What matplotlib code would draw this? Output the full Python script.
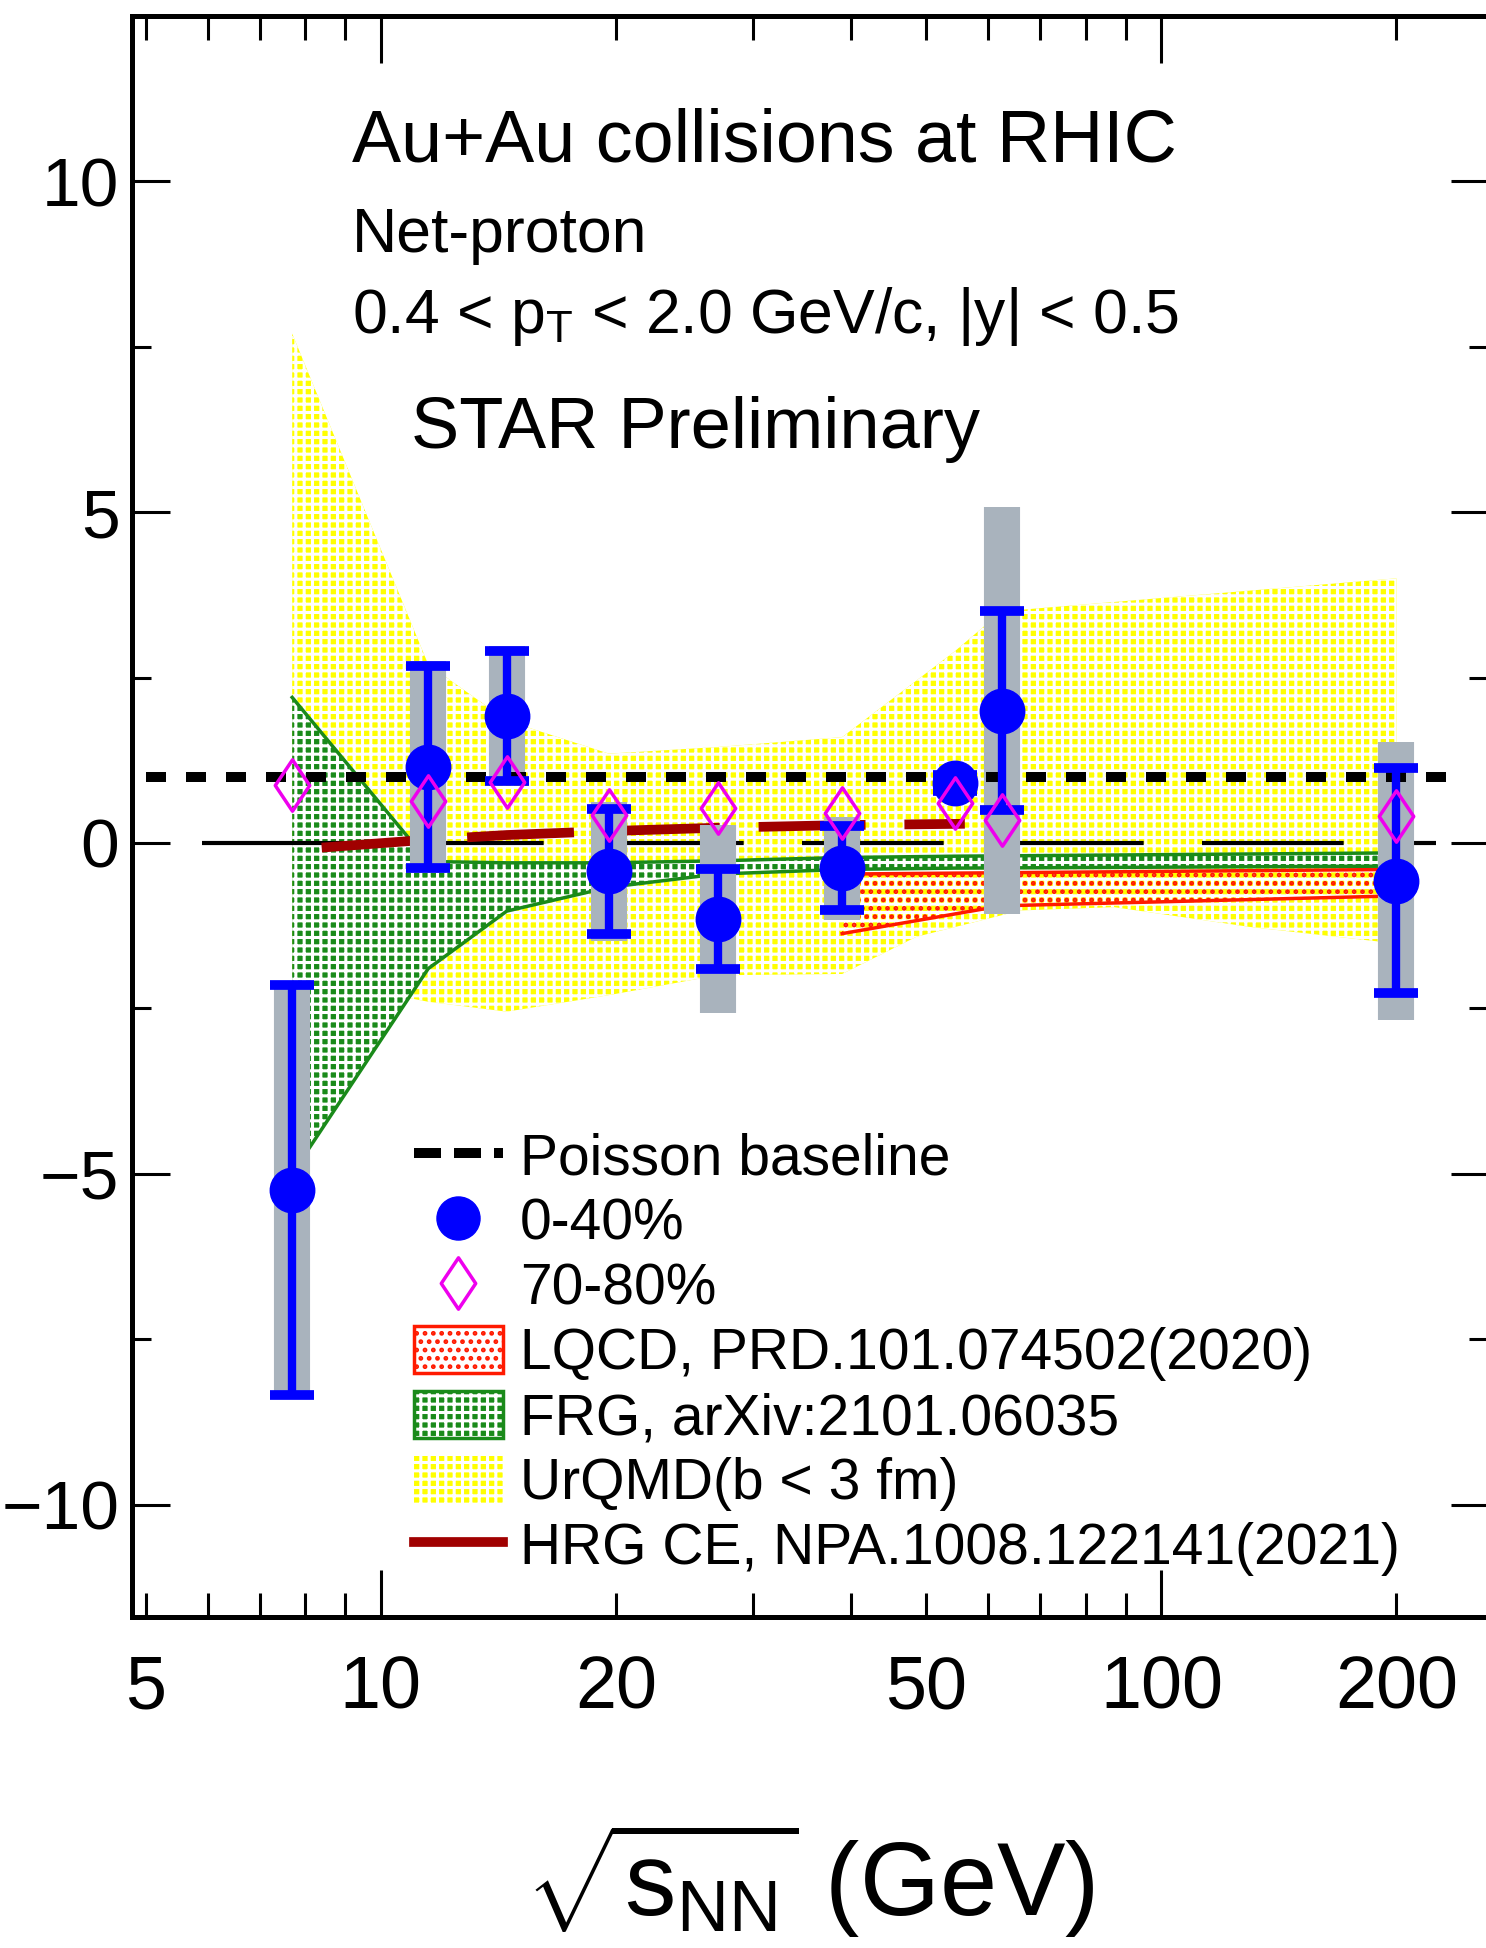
import matplotlib
matplotlib.use("Agg")
import matplotlib.pyplot as plt
from matplotlib.path import Path
from matplotlib.patches import Patch
from matplotlib.lines import Line2D
from matplotlib.ticker import FixedLocator, FuncFormatter, MultipleLocator

plt.rcParams['font.family'] = ['Liberation Sans', 'DejaVu Sans']
plt.rcParams['mathtext.fontset'] = 'custom'
plt.rcParams['mathtext.rm'] = 'Liberation Sans'
plt.rcParams['mathtext.it'] = 'Liberation Sans:italic'
plt.rcParams['mathtext.bf'] = 'Liberation Sans:bold'
plt.rcParams['hatch.linewidth'] = 2.2

# ---- data ----
energy = [7.7, 11.5, 14.5, 19.6, 27, 39, 54.4, 62.4, 200]

# 0-40% centrality
c040 = [-5.24, 1.15, 1.92, -0.43, -1.15, -0.38, 0.90, 2.00, -0.57]
c040_stat = [3.10, 1.53, 0.98, 0.95, 0.75, 0.64, 0.12, 1.50, 1.70]
c040_sys = [3.10, 1.60, 1.05, 1.05, 1.42, 0.78, 0.15, 3.08, 2.10]

# 70-80% centrality
c7080 = [0.88, 0.63, 0.92, 0.43, 0.53, 0.45, 0.61, 0.34, 0.41]

# UrQMD band (b < 3 fm)
urqmd_hi_x = [7.7, 11.5, 14.5, 19.6, 27, 39, 54.4, 62.4, 200]
urqmd_hi_y = [7.70, 2.70, 1.85, 1.35, 1.45, 1.60, 2.90, 3.50, 4.00]
urqmd_lo_x = [7.7, 11.5, 14.5, 19.6, 27, 39, 48.5, 66, 87, 130, 200]
urqmd_lo_y = [-2.00, -2.40, -2.55, -2.30, -2.00, -1.98, -1.42, -1.02, -0.97, -1.27, -1.52]

# FRG band
frg_x = [7.7, 11.5, 14.5, 19.6, 27, 39, 54.4, 200]
frg_hi = [2.20, -0.28, -0.30, -0.30, -0.27, -0.22, -0.20, -0.15]
frg_lo = [-5.00, -1.90, -1.03, -0.67, -0.47, -0.40, -0.38, -0.35]

# LQCD band
lqcd_x = [39, 62.4, 200]
lqcd_hi = [-0.47, -0.45, -0.40]
lqcd_lo = [-1.37, -0.95, -0.80]

# HRG CE
hrg_x = [8.4, 11.5, 14.5, 19.6, 27, 39, 56]
hrg_y = [-0.07, 0.05, 0.12, 0.18, 0.23, 0.27, 0.29]

# reference lines
poisson_x = [5.0, 244]
poisson_y = [1, 1]
zero_x = [5.9, 225]
zero_y = [0, 0]

# colours
BLUE = '#0000ff'
MAGENTA = '#ee00ee'
GREY = '#a9b3bd'
YELLOW = '#ffff00'
GREEN = '#1a8a1a'
RED = '#ff1a00'
DARKRED = '#a00000'

diamond = Path([(0, 1), (0.67, 0), (0, -1), (-0.67, 0), (0, 1)],
               [Path.MOVETO, Path.LINETO, Path.LINETO, Path.LINETO, Path.CLOSEPOLY])

fig = plt.figure(figsize=(14.86, 19.48), dpi=100)
ax = fig.add_axes([0.0888, 0.1699, 0.9125, 0.8219])

# model bands
ax.fill(urqmd_hi_x + urqmd_lo_x[::-1], urqmd_hi_y + urqmd_lo_y[::-1],
        facecolor=YELLOW, edgecolor='white', hatch='++', lw=0, zorder=1)
ax.fill_between(lqcd_x, lqcd_lo, lqcd_hi, facecolor='none', edgecolor=RED,
                hatch='..', lw=0, zorder=2)
ax.plot(lqcd_x, lqcd_hi, color=RED, lw=2.5, zorder=2)
ax.plot(lqcd_x, lqcd_lo, color=RED, lw=2.5, zorder=2)
ax.fill_between(frg_x, frg_lo, frg_hi, facecolor=GREEN, edgecolor='white',
                hatch='++', lw=0, zorder=2)
ax.plot(frg_x, frg_hi, color=GREEN, lw=2.5, zorder=2)
ax.plot(frg_x, frg_lo, color=GREEN, lw=2.5, zorder=2)

# lines
ax.plot(zero_x, zero_y, color='black', lw=3, dashes=(34, 14), zorder=3)
ax.plot(hrg_x, hrg_y, color=DARKRED, lw=7, dashes=(11, 4), zorder=3)

# systematic errors
lo = [v - s for v, s in zip(c040, c040_sys)]
hi = [v + s for v, s in zip(c040, c040_sys)]
ax.vlines(energy, lo, hi, colors=GREY, lw=26, zorder=3.5)

ax.plot(poisson_x, poisson_y, color='black', lw=7.2, dashes=(2, 2), zorder=4)

# data points
ax.errorbar(energy, c040, yerr=c040_stat, fmt='o', color=BLUE, ms=32,
            elinewidth=6, capsize=16, capthick=7, zorder=5)
ax.plot(energy, c7080, ls='none', marker=diamond, ms=37, mfc='none',
        mec=MAGENTA, mew=2.5, zorder=6)

# axes
ax.set_xscale('log')
ax.set_xlim(4.8, 262)
ax.set_ylim(-11.7, 12.5)
ax.xaxis.set_major_locator(FixedLocator([10, 100]))
ax.xaxis.set_minor_locator(FixedLocator([5, 6, 7, 8, 9, 20, 30, 40, 50, 60, 70, 80, 90, 200]))
ax.xaxis.set_major_formatter(FuncFormatter(lambda v, p: f'{v:g}'))
ax.xaxis.set_minor_formatter(FuncFormatter(lambda v, p: f'{v:g}' if v in (5, 20, 50, 200) else ''))
ax.yaxis.set_major_locator(MultipleLocator(5))
ax.yaxis.set_minor_locator(MultipleLocator(2.5))
ax.yaxis.set_major_formatter(FuncFormatter(lambda v, p: f'{v:g}'.replace('-', '\u2212')))

ax.tick_params(axis='x', which='major', direction='in', length=34, width=2.2,
               top=True, labelsize=53, pad=27)
ax.tick_params(axis='x', which='minor', direction='in', length=17, width=2.2,
               top=True, labelsize=53, pad=27)
ax.tick_params(axis='y', which='major', direction='in', length=27, width=2.2,
               right=True, labelsize=50, pad=9)
ax.tick_params(axis='y', which='minor', direction='in', length=14, width=2.2,
               right=True)
for sp in ax.spines.values():
    sp.set_linewidth(3.6)

# annotations
ax.text(0.162, 0.9088, 'Au+Au collisions at RHIC', transform=ax.transAxes,
        fontsize=53, va='baseline')
ax.text(0.162, 0.8526, 'Net-proton', transform=ax.transAxes,
        fontsize=45, va='baseline')
ax.text(0.162, 0.802, r'0.4 < p$_\mathrm{T}$ < 2.0 GeV/c, |y| < 0.5',
        transform=ax.transAxes, fontsize=45, va='baseline')
ax.text(0.206, 0.730, 'STAR Preliminary', transform=ax.transAxes,
        fontsize=52, va='baseline')

fig.text(0.545, 0.035, r'$\sqrt{\mathrm{s}_\mathrm{NN}}$ (GeV)', fontsize=74,
         ha='center', va='center')

# legend
handles = [
    Line2D([], [], color='black', lw=7.2, dashes=(2.7, 1.3)),
    Line2D([], [], ls='none', marker='o', color=BLUE, ms=31),
    Line2D([], [], ls='none', marker=diamond, ms=37, mfc='none', mec=MAGENTA, mew=2.5),
    Patch(facecolor='white', edgecolor=RED, hatch='..', lw=2.5),
    (Patch(facecolor=GREEN, edgecolor='white', hatch='++', lw=0),
     Patch(facecolor='none', edgecolor=GREEN, lw=2.5)),
    Patch(facecolor=YELLOW, edgecolor='white', hatch='++', lw=0),
    Line2D([], [], color=DARKRED, lw=7),
]
labels = ['Poisson baseline', '0-40%', '70-80%', 'LQCD, PRD.101.074502(2020)',
          'FRG, arXiv:2101.06035', 'UrQMD(b < 3 fm)', 'HRG CE, NPA.1008.122141(2021)']
ax.legend(handles, labels, loc='upper left', bbox_to_anchor=(0.208, 0.3036),
          frameon=False, fontsize=41, handlelength=1.56, handleheight=0.9,
          handletextpad=0.3, labelspacing=0.17, borderpad=0, borderaxespad=0)

fig.savefig('out.png', dpi=100)
